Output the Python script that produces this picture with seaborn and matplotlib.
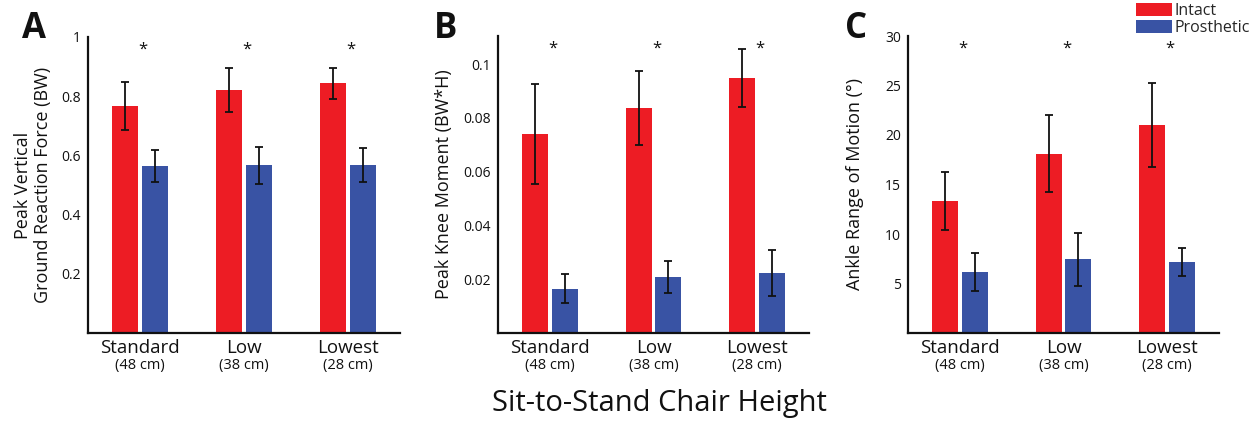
import numpy as np
import pandas as pd
import matplotlib
matplotlib.use("Agg")
import matplotlib.pyplot as plt
from matplotlib.ticker import FuncFormatter
import seaborn as sns

# Chair heights and their seat heights
categories = ["Standard", "Low", "Lowest"]
seat_heights = ["(48 cm)", "(38 cm)", "(28 cm)"]
limbs = ["Intact", "Prosthetic"]

# Peak vertical ground reaction force (BW), mean and SD
grf_intact = [0.767, 0.820, 0.844]
grf_intact_sd = [0.081, 0.075, 0.052]
grf_prosthetic = [0.563, 0.567, 0.568]
grf_prosthetic_sd = [0.054, 0.063, 0.058]

# Peak knee moment (BW*H), mean and SD
knee_intact = [0.0741, 0.0838, 0.0949]
knee_intact_sd = [0.0185, 0.0138, 0.0107]
knee_prosthetic = [0.0165, 0.0209, 0.0223]
knee_prosthetic_sd = [0.0055, 0.0059, 0.0086]

# Ankle range of motion (deg), mean and SD
ankle_intact = [13.33, 18.12, 21.01]
ankle_intact_sd = [2.9, 3.9, 4.2]
ankle_prosthetic = [6.15, 7.43, 7.16]
ankle_prosthetic_sd = [1.9, 2.65, 1.4]

# Axis settings per panel
ylims = [(0, 1.0), (0, 0.1105), (0, 30)]
yticks = [[0.2, 0.4, 0.6, 0.8, 1.0],
          [0.02, 0.04, 0.06, 0.08, 0.1],
          [5, 10, 15, 20, 25, 30]]
ylabels = ["Peak Vertical\nGround Reaction Force (BW)",
           "Peak Knee Moment (BW*H)",
           "Ankle Range of Motion (\u00b0)"]
panel_letters = ["A", "B", "C"]

RED = "#ED1C24"
BLUE = "#3953A4"

sns.set_style("white")
plt.rcParams["font.family"] = ["Open Sans", "DejaVu Sans"]
plt.rcParams["axes.linewidth"] = 1.6


def long_frame(intact, intact_sd, prosthetic, prosthetic_sd):
    rows = []
    for c, v, s in zip(categories, intact, intact_sd):
        rows.append({"height": c, "limb": "Intact", "value": v, "sd": s})
    for c, v, s in zip(categories, prosthetic, prosthetic_sd):
        rows.append({"height": c, "limb": "Prosthetic", "value": v, "sd": s})
    return pd.DataFrame(rows)


frames = [
    long_frame(grf_intact, grf_intact_sd, grf_prosthetic, grf_prosthetic_sd),
    long_frame(knee_intact, knee_intact_sd, knee_prosthetic, knee_prosthetic_sd),
    long_frame(ankle_intact, ankle_intact_sd, ankle_prosthetic, ankle_prosthetic_sd),
]

W, H = 1260, 421
fig = plt.figure(figsize=(W / 100, H / 100), dpi=100)

# axes rectangles in pixels: left, right, top, bottom
boxes = [(88, 400, 37, 333), (498, 809, 36, 333), (908, 1219, 36, 333)]
label_x = [-0.176, -0.174, -0.170]
letter_x = [22, 434, 845]

axes = []
for i, (df, box) in enumerate(zip(frames, boxes)):
    l, r, t, b = box
    ax = fig.add_axes([l / W, 1 - b / H, (r - l) / W, (b - t) / H])
    axes.append(ax)
    sns.barplot(data=df, x="height", y="value", hue="limb",
                order=categories, hue_order=limbs,
                palette=[RED, BLUE], saturation=1, errorbar=None,
                width=0.576, gap=0.13, linewidth=0, legend=(i == 2), ax=ax)

    # error bars at the bar centres
    for limb, container in zip(limbs, ax.containers):
        sub = df[df["limb"] == limb].set_index("height").loc[categories]
        xs = [p.get_x() + p.get_width() / 2 for p in container.patches]
        ys = [p.get_height() for p in container.patches]
        ax.errorbar(xs, ys, yerr=sub["sd"].values, fmt="none",
                    ecolor="#111111", elinewidth=1.3, capsize=3.2,
                    capthick=1.3, zorder=5)

    ax.set_xlim(-0.5, 2.5)
    ax.set_ylim(*ylims[i])
    ax.set_yticks(yticks[i])
    ax.yaxis.set_major_formatter(FuncFormatter(lambda v, p: f"{v:g}"))
    ax.tick_params(axis="y", direction="in", length=4, width=1.3,
                   labelsize=10, pad=5, colors="#111111")
    ax.tick_params(axis="x", length=0, labelsize=13.5, pad=4,
                   colors="#111111")
    for side in ("top", "right"):
        ax.spines[side].set_visible(False)
    for side in ("left", "bottom"):
        ax.spines[side].set_color("#111111")
    ax.set_xlabel("")
    ax.set_ylabel(ylabels[i], fontsize=13, va="center", color="#111111",
                  linespacing=1.15)
    ax.yaxis.set_label_coords(label_x[i], 0.5)

    # seat heights under each category name
    for k, h in enumerate(seat_heights):
        ax.text(k, -0.084, h, transform=ax.get_xaxis_transform(),
                ha="center", va="top", fontsize=10.5, color="#111111")

    # significance markers
    for k in range(len(categories)):
        ax.text(k + 0.03, 0.957, "*", transform=ax.get_xaxis_transform(),
                ha="center", va="center", fontsize=12, color="#111111")

    fig.text(letter_x[i] / W, 1 - 38 / H, panel_letters[i], fontsize=25,
             fontweight="bold", ha="left", va="baseline", color="#111111")

sns.move_legend(axes[2], loc="upper right", bbox_to_anchor=(1.10, 1.111),
                title=None, frameon=False, fontsize=11.5, handlelength=2.2,
                handleheight=0.85, handletextpad=0.2, labelspacing=0.05,
                borderpad=0, borderaxespad=0)

fig.text(659 / W, 1 - 411 / H, "Sit-to-Stand Chair Height", fontsize=21,
         ha="center", va="baseline", color="#111111")

fig.savefig("out.png", dpi=100)
